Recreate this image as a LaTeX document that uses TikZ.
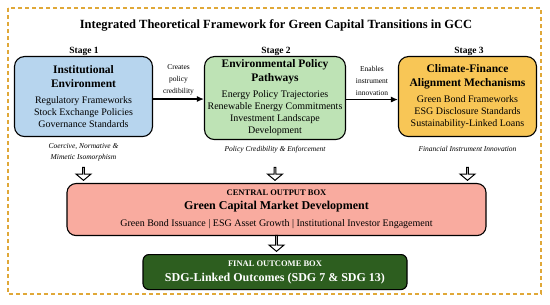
\documentclass[tikz,border=0pt]{standalone}
\usepackage{fontspec}
\setmainfont{Liberation Serif}
\usetikzlibrary{arrows.meta,positioning,shapes.arrows}

\definecolor{instblue}{HTML}{B7D5EE}
\definecolor{policygreen}{HTML}{BEE3B5}
\definecolor{climategold}{HTML}{F8C656}
\definecolor{outputsalmon}{HTML}{F9AB9F}
\definecolor{outcomegreen}{HTML}{2D5E1F}
\definecolor{framegold}{HTML}{E0A838}

\begin{document}
\begin{tikzpicture}[
      x=1pt, y=-1pt,
      font=\fontsize{10}{12}\selectfont,
      stagebox/.style={draw, line width=1.1pt, rounded corners=10pt, align=center,
                       anchor=north, inner sep=2pt, minimum width=138pt},
      note/.style={font=\fontsize{7.5}{10.5}\selectfont\itshape, align=center},
      arrlabel/.style={font=\fontsize{7.5}{12}\selectfont, align=center},
      stagelabel/.style={font=\fontsize{9.5}{11}\selectfont\bfseries},
      arr/.style={-{Latex[length=7pt, width=6pt]}, line width=1.2pt},
      hollow/.style={single arrow, draw, line width=1pt, fill=white, inner sep=0pt,
                     minimum height=13pt, minimum width=15pt,
                     single arrow head extend=4pt, single arrow tip angle=100,
                     shape border rotate=270},
    ]
    \useasboundingbox (0,0) rectangle (550,305);
    % outer frame
    \draw[framegold, line width=1.2pt, dash pattern=on 4pt off 3pt] (8,8) rectangle (541,294);
    \node[font=\fontsize{12.5}{14}\selectfont\bfseries] (title) at (276,25)
      {Integrated Theoretical Framework for Green Capital Transitions in GCC};
    \node[stagelabel] (st1) at (84,51) {Stage 1};
    \node[stagelabel] (st2) at (276,51) {Stage 2};
    \node[stagelabel] (st3) at (469,51) {Stage 3};
    % stage boxes
    \node[stagebox, fill=instblue, minimum height=80pt] (inst) at (83.5,56)
      {{\fontsize{11.5}{14}\selectfont\bfseries Institutional}\\[2pt]
       {\fontsize{11.5}{14}\selectfont\bfseries Environment}\\[4pt]
       Regulatory Frameworks\\Stock Exchange Policies\\Governance Standards};
    \node[stagebox, fill=policygreen, minimum height=83pt, minimum width=141pt] (env) at (275,56)
      {{\fontsize{11.5}{14}\selectfont\bfseries Environmental Policy}\\[2pt]
       {\fontsize{11.5}{14}\selectfont\bfseries Pathways}\\[4pt]
       Energy Policy Trajectories\\Renewable Energy Commitments\\Investment Landscape\\Development};
    \node[stagebox, fill=climategold, minimum height=80pt] (clim) at (467.5,56)
      {{\fontsize{11.5}{14}\selectfont\bfseries Climate-Finance}\\[2pt]
       {\fontsize{11.5}{14}\selectfont\bfseries Alignment Mechanisms}\\[4pt]
       Green Bond Frameworks\\ESG Disclosure Standards\\Sustainability-Linked Loans};
    \draw[arr] ([yshift=-2.5pt]inst.east) -- ([yshift=-2.5pt]inst.east -| env.west)
      node[midway, above=0pt, arrlabel] (lab1) {Creates\\policy\\credibility};
    \draw[arr] ([yshift=-1.5pt]env.east) -- ([yshift=-1.5pt]env.east -| clim.west)
      node[midway, above=0pt, arrlabel] (lab2) {Enables\\instrument\\innovation};
    \node[note, below=3pt of inst] (n1) {Coercive, Normative \&\\Mimetic Isomorphism};
    \node[note, below=3pt of env] (n2) {Policy Credibility \& Enforcement};
    \node[note, below=6pt of clim] (n3) {Financial Instrument Innovation};
    % central output
    \node[draw, line width=1.1pt, rounded corners=9pt, fill=outputsalmon, align=center,
          minimum width=419pt, minimum height=52pt, anchor=north] (out) at (276.5,183)
      {{\fontsize{8.5}{11}\selectfont\bfseries CENTRAL OUTPUT BOX}\\[2pt]
       {\fontsize{12}{15}\selectfont\bfseries Green Capital Market Development}\\[5pt]
       Green Bond Issuance | ESG Asset Growth | Institutional Investor Engagement};
    \node[hollow, anchor=tip] (h1) at ([yshift=2pt]out.north -| inst.south) {};
    \node[hollow, anchor=tip] (h2) at ([yshift=2pt]out.north -| env.south) {};
    \node[hollow, anchor=tip] (h3) at ([yshift=2pt]out.north -| clim.south) {};
    % final outcome
    \node[draw, line width=1.1pt, rounded corners=6pt, fill=outcomegreen, text=white, align=center,
          minimum width=264pt, minimum height=35pt, anchor=north] (final) at (275,254)
      {{\fontsize{8.5}{11}\selectfont\bfseries FINAL OUTCOME BOX}\\[3pt]
       {\fontsize{12}{15}\selectfont\bfseries SDG-Linked Outcomes (SDG 7 \& SDG 13)}};
    \node[hollow, minimum height=16pt, anchor=tip] (h4) at ([yshift=2pt]final.north -| out.south) {};
  \end{tikzpicture}
\end{document}
